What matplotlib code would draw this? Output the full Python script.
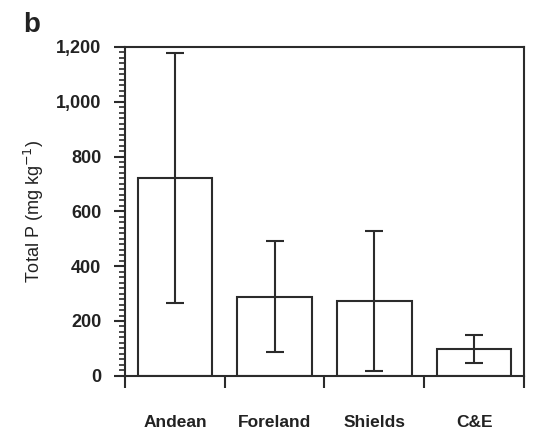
import matplotlib.pyplot as plt
from matplotlib.ticker import FuncFormatter, MultipleLocator, FixedLocator

# Data (panel b)
regions = ['Andean', 'Foreland', 'Shields', 'C&E']
total_p = [722, 289, 272, 98]
total_p_err = [455, 201, 255, 52]

plt.rcParams['font.family'] = ['Liberation Sans', 'DejaVu Sans']
line_col = '#2b2b2b'

fig = plt.figure(figsize=(5.39, 4.30), dpi=100)
ax = fig.add_axes([0.232, 0.126, 0.740, 0.765])

xpos = [i + 0.5 for i in range(len(regions))]
ax.bar(xpos, total_p, width=0.75, color='white', edgecolor=line_col,
       linewidth=1.5, zorder=2)
ax.errorbar(xpos, total_p, yerr=total_p_err, fmt='none', ecolor=line_col,
            elinewidth=1.5, capsize=6.5, capthick=1.5, zorder=3)

ax.set_xlim(0, len(regions))
ax.set_ylim(0, 1200)

# y axis: majors every 200, minors every 20, ticks outward
ax.yaxis.set_major_locator(MultipleLocator(200))
ax.yaxis.set_minor_locator(MultipleLocator(20))
ax.yaxis.set_major_formatter(FuncFormatter(lambda v, p: f'{v:,.0f}'))
ax.tick_params(axis='y', which='major', length=8, width=1.5, color=line_col,
               pad=9, labelsize=13)
ax.tick_params(axis='y', which='minor', length=4.5, width=1.2, color=line_col)
for lab in ax.get_yticklabels():
    lab.set_fontweight('bold')
    lab.set_color('#222222')

# x axis: ticks at category boundaries, labels at centres
ax.xaxis.set_major_locator(FixedLocator(range(len(regions) + 1)))
ax.xaxis.set_minor_locator(FixedLocator(xpos))
ax.set_xticklabels([])
ax.set_xticklabels(regions, minor=True, fontweight='bold', fontsize=12.5,
                   color='#222222')
ax.tick_params(axis='x', which='major', length=8.5, width=1.5, color=line_col)
ax.tick_params(axis='x', which='minor', length=0, pad=28)

for s in ax.spines.values():
    s.set_linewidth(1.5)
    s.set_color(line_col)

ax.set_ylabel('Total P (mg kg$^{-1}$)', fontsize=13, color='#222222',
              labelpad=7)

fig.text(0.044, 0.972, 'b', fontsize=20, fontweight='bold', va='top',
         color='#222222')

fig.savefig('out.png', dpi=100)
